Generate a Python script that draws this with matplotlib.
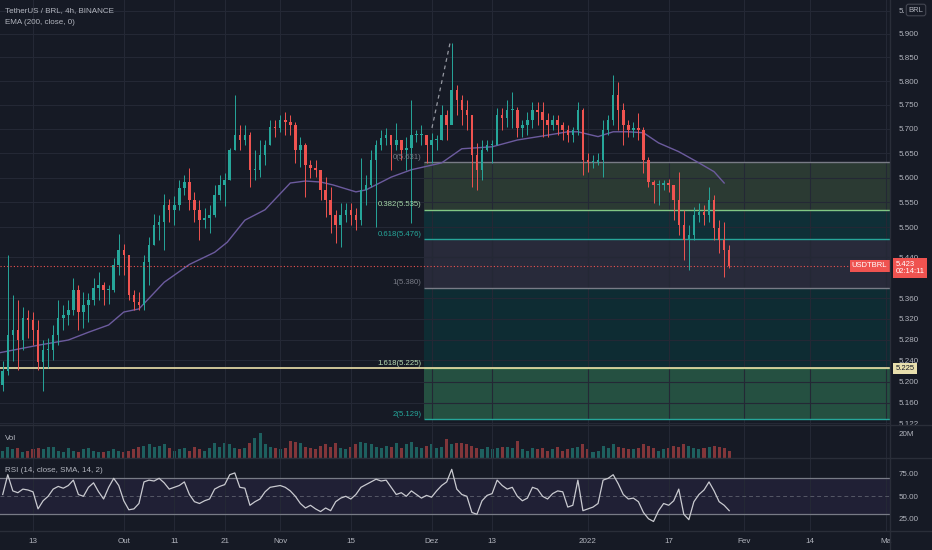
import numpy as np
import pandas as pd
import matplotlib
matplotlib.use('Agg')
import matplotlib.pyplot as plt
import matplotlib.dates as mdates
import matplotlib.transforms as mtransforms
from matplotlib.lines import Line2D
from matplotlib.ticker import FixedLocator, NullLocator

plt.rcParams['font.family'] = ['Liberation Sans', 'DejaVu Sans']

BG = '#161a25'
GRID = '#242835'
TXT = '#b2b5be'
UP = '#26a69a'
DOWN = '#ef5350'

# daily candles, 2021-09-07 .. 2022-01-28
start_day = '2021-09-07'
first_open = 5.194
high = [5.239, 5.445, 5.366, 5.356, 5.343, 5.337, 5.333,
        5.318, 5.279, 5.283, 5.308, 5.356, 5.347, 5.356,
        5.399, 5.386, 5.372, 5.370, 5.399, 5.411, 5.391,
        5.386, 5.439, 5.486, 5.467, 5.445, 5.376, 5.372,
        5.445, 5.480, 5.527, 5.525, 5.567, 5.557, 5.563,
        5.595, 5.606, 5.620, 5.571, 5.555, 5.539, 5.545,
        5.585, 5.606, 5.610, 5.661, 5.771, 5.708, 5.708,
        5.693, 5.657, 5.677, 5.677, 5.718, 5.718, 5.729,
        5.735, 5.729, 5.714, 5.683, 5.670, 5.636, 5.636,
        5.616, 5.602, 5.581, 5.535, 5.549, 5.549, 5.549,
        5.539, 5.640, 5.606, 5.657, 5.677, 5.698, 5.702,
        5.687, 5.712, 5.677, 5.683, 5.760, 5.698, 5.708,
        5.687, 5.691, 5.687, 5.750, 5.739, 5.881, 5.792,
        5.771, 5.760, 5.729, 5.671, 5.677, 5.677,
        5.677, 5.743, 5.743, 5.760, 5.777, 5.745, 5.718,
        5.735, 5.756, 5.756, 5.756, 5.733, 5.729, 5.729,
        5.714, 5.708, 5.704, 5.756, 5.743, 5.651, 5.646,
        5.651, 5.718, 5.729, 5.813, 5.798, 5.754, 5.718,
        5.714, 5.733, 5.704, 5.642, 5.595, 5.595, 5.595,
        5.597, 5.585, 5.612, 5.535, 5.504, 5.541, 5.549,
        5.545, 5.581, 5.565, 5.514, 5.510, 5.465]
low = [5.182, 5.213, 5.239, 5.222, 5.260, 5.283, 5.270,
       5.222, 5.182, 5.226, 5.241, 5.270, 5.298, 5.308,
       5.327, 5.298, 5.302, 5.314, 5.347, 5.356, 5.347,
       5.349, 5.372, 5.405, 5.405, 5.356, 5.337, 5.337,
       5.337, 5.386, 5.465, 5.474, 5.455, 5.510, 5.504,
       5.535, 5.565, 5.535, 5.510, 5.474, 5.498, 5.488,
       5.520, 5.555, 5.543, 5.595, 5.657, 5.657, 5.667,
       5.581, 5.595, 5.602, 5.626, 5.667, 5.683, 5.693,
       5.687, 5.687, 5.630, 5.622, 5.561, 5.599, 5.602,
       5.555, 5.520, 5.488, 5.469, 5.461, 5.510, 5.504,
       5.494, 5.505, 5.545, 5.581, 5.500, 5.657, 5.667,
       5.616, 5.657, 5.636, 5.616, 5.508, 5.673, 5.667,
       5.630, 5.630, 5.657, 5.677, 5.677, 5.718, 5.729,
       5.708, 5.698, 5.581, 5.575, 5.595, 5.655,
       5.630, 5.667, 5.698, 5.704, 5.702, 5.683, 5.683,
       5.687, 5.702, 5.708, 5.683, 5.683, 5.698, 5.687,
       5.677, 5.673, 5.673, 5.687, 5.606, 5.612, 5.620,
       5.626, 5.602, 5.687, 5.708, 5.698, 5.667, 5.683,
       5.683, 5.677, 5.610, 5.581, 5.549, 5.545, 5.575,
       5.571, 5.514, 5.484, 5.435, 5.415, 5.474, 5.510,
       5.504, 5.510, 5.474, 5.449, 5.401, 5.419]
close = [5.220, 5.289, 5.298, 5.279, 5.322, 5.318, 5.298,
         5.237, 5.260, 5.260, 5.289, 5.322, 5.327, 5.337,
         5.376, 5.333, 5.347, 5.356, 5.380, 5.386, 5.376,
         5.376, 5.425, 5.455, 5.445, 5.366, 5.353, 5.347,
         5.431, 5.465, 5.504, 5.510, 5.545, 5.535, 5.545,
         5.579, 5.591, 5.555, 5.535, 5.514, 5.518, 5.525,
         5.565, 5.585, 5.595, 5.657, 5.687, 5.677, 5.687,
         5.616, 5.616, 5.646, 5.667, 5.704, 5.702, 5.718,
         5.714, 5.708, 5.657, 5.667, 5.626, 5.620, 5.616,
         5.575, 5.555, 5.525, 5.504, 5.525, 5.535, 5.525,
         5.514, 5.575, 5.585, 5.636, 5.667, 5.681, 5.687,
         5.667, 5.677, 5.657, 5.661, 5.687, 5.687, 5.687,
         5.667, 5.677, 5.677, 5.729, 5.708, 5.781, 5.760,
         5.739, 5.729, 5.646, 5.616, 5.657, 5.667,
         5.667, 5.729, 5.722, 5.739, 5.739, 5.702, 5.708,
         5.718, 5.739, 5.735, 5.718, 5.708, 5.718, 5.708,
         5.698, 5.687, 5.698, 5.739, 5.636, 5.632, 5.632,
         5.636, 5.698, 5.718, 5.771, 5.739, 5.708, 5.698,
         5.702, 5.698, 5.636, 5.591, 5.585, 5.585, 5.589,
         5.585, 5.555, 5.504, 5.474, 5.484, 5.525, 5.531,
         5.525, 5.555, 5.498, 5.474, 5.455, 5.423]
volume = [6, 9, 7, 8, 5, 6, 7,
          8, 7, 9, 9, 6, 5, 8,
          6, 5, 7, 8, 6, 5, 5,
          6, 7, 6, 5, 6, 7, 9,
          10, 11, 9, 10, 11, 8, 6,
          7, 8, 6, 9, 7, 6, 8,
          12, 9, 12, 11, 8, 7, 8,
          12, 16, 20, 11, 9, 8, 7,
          8, 14, 13, 12, 9, 8, 7,
          10, 11, 9, 12, 8, 7, 9,
          11, 13, 12, 11, 9, 8, 10,
          9, 12, 8, 11, 13, 9, 8,
          10, 11, 8, 9, 15, 11, 12,
          12, 11, 10, 8, 7, 9,
          7, 8, 9, 9, 8, 14, 7,
          6, 8, 7, 8, 6, 7, 9,
          6, 7, 8, 9, 11, 7, 5,
          6, 10, 8, 11, 9, 8, 7,
          7, 8, 11, 10, 8, 6, 7,
          8, 10, 9, 11, 10, 8, 7,
          8, 9, 10, 9, 8, 6]
rsi = [52, 74, 56, 54, 58, 57, 55,
       36, 45, 50, 58, 61, 59, 62,
       68, 52, 50, 60, 65, 55, 47,
       60, 70, 62, 45, 35, 36, 42,
       66, 68, 67, 70, 65, 58, 60,
       62, 66, 52, 44, 42, 45, 47,
       58, 61, 63, 74, 76, 60, 59,
       40, 44, 47, 55, 60, 61, 62,
       60, 56, 50, 42, 37, 40, 36,
       33, 37, 34, 44, 48, 50, 47,
       52, 60, 63, 66, 69, 67, 68,
       60, 52, 54, 50, 56, 52, 48,
       51, 49, 56, 62, 66, 80, 58,
       52, 50, 32, 30, 45, 51,
       53, 68, 62, 58, 60, 50, 45,
       48, 60, 58, 50, 47, 53, 56,
       55, 38, 40, 68, 34, 36, 38,
       42, 68, 70, 74, 64, 52, 47,
       48, 44, 32, 25, 22, 34, 42,
       40, 45, 58, 30, 24, 44, 52,
       57, 66, 56, 44, 40, 34]

ema_dates = ['2021-09-06 00:00', '2021-09-14 00:00', '2021-09-20 00:00', '2021-09-24 00:00',
             '2021-09-28 00:00', '2021-10-01 00:00', '2021-10-04 00:00', '2021-10-09 00:00',
             '2021-10-14 00:00', '2021-10-19 00:00', '2021-10-21 12:00', '2021-10-25 00:00',
             '2021-10-29 00:00', '2021-11-03 00:00', '2021-11-06 00:00', '2021-11-09 00:00',
             '2021-11-11 12:00', '2021-11-16 00:00', '2021-11-18 00:00', '2021-11-23 00:00',
             '2021-11-27 00:00', '2021-12-03 00:00', '2021-12-07 00:00', '2021-12-13 00:00',
             '2021-12-18 00:00', '2021-12-24 00:00', '2021-12-28 00:00', '2021-12-30 00:00',
             '2022-01-03 00:00', '2022-01-06 00:00', '2022-01-09 00:00', '2022-01-12 00:00',
             '2022-01-15 00:00', '2022-01-19 00:00', '2022-01-23 00:00', '2022-01-26 00:00',
             '2022-01-28 00:00']
ema_values = [5.254, 5.269, 5.279, 5.294, 5.308,
              5.333, 5.339, 5.391, 5.426, 5.450,
              5.470, 5.514, 5.535, 5.589, 5.593,
              5.591, 5.585, 5.571, 5.575, 5.601,
              5.616, 5.630, 5.659, 5.663, 5.677,
              5.687, 5.694, 5.694, 5.684, 5.694,
              5.694, 5.692, 5.671, 5.653, 5.630,
              5.612, 5.589]

fib_start = '2021-11-29 12:00'
fib_ratios = ['0', '0.382', '0.618', '1', '1.618', '2']
fib_prices = [5.631, 5.535, 5.476, 5.380, 5.225, 5.129]
fib_line_colors = ['#787b86', '#81c784', '#26a69a', '#787b86', '#4caf50', '#26a69a']
fib_text_colors = ['#787b86', '#a5d6a7', '#26a69a', '#787b86', '#b9dcb3', '#26a69a']
fib_fill_colors = ['#2b3a33', '#0f2f37', '#282a3a', '#0e2c33', '#255041']
trend_dates = ['2021-12-01 02:00', '2021-12-04 16:00']
trend_prices = [5.702, 5.881]
support_price = 5.225
last_price = 5.423
countdown = '02:14:11'

price_ticks = [5.950, 5.900, 5.850, 5.800, 5.750, 5.700, 5.650, 5.600, 5.550,
               5.500, 5.440, 5.360, 5.320, 5.280, 5.240, 5.200, 5.160, 5.122]
price_tick_labels = ['5.', '5.900', '5.850', '5.800', '5.750', '5.700', '5.650',
                     '5.600', '5.550', '5.500', '5.440', '5.360', '5.320', '5.280',
                     '5.240', '5.200', '5.160', '5.122']
x_tick_dates = ['2021-09-13', '2021-10-01', '2021-10-11', '2021-10-21', '2021-11-01',
                '2021-11-15', '2021-12-01', '2021-12-13', '2022-01-01', '2022-01-17',
                '2022-02-01', '2022-02-14', '2022-03-01']
x_tick_labels = ['13', 'Out', '11', '21', 'Nov', '15', 'Dez', '13', '2022', '17',
                 'Fev', '14', 'Ma']


def to_num(strings):
    return mdates.date2num(pd.to_datetime(strings, format='mixed').to_pydatetime())


# derived arrays
close_a = np.array(close)
open_a = np.concatenate([[first_open], close_a[:-1]])
high_a = np.array(high)
low_a = np.array(low)
dates = pd.date_range(start_day, periods=len(close), freq='D')
xd = mdates.date2num(dates.to_pydatetime())
cols = np.where(close_a >= open_a, UP, DOWN)

ref_day = to_num(['2021-09-13'])[0]
x_left = ref_day - 6.54
x_right = ref_day + 169.87

W, H = 932.0, 550.0
fig = plt.figure(figsize=(9.32, 5.5), dpi=100, facecolor=BG)
ax = fig.add_axes([0, 1 - 425 / H, 890 / W, 425 / H])
axv = fig.add_axes([0, 1 - 458 / H, 890 / W, 33 / H], sharex=ax)
axr = fig.add_axes([0, 1 - 531 / H, 890 / W, 73 / H], sharex=ax)

xt = to_num(x_tick_dates)
for a in (ax, axv, axr):
    a.set_facecolor(BG)
    for s in a.spines.values():
        s.set_visible(False)
    a.set_axisbelow('line')
    a.xaxis.set_major_locator(FixedLocator(xt))
    a.grid(True, axis='x', color=GRID, lw=0.8)
    a.yaxis.tick_right()
    a.tick_params(axis='both', length=0, labelcolor=TXT, labelsize=5.8)
ax.tick_params(labelbottom=False)
axv.tick_params(labelbottom=False)
axr.set_xticks(xt)
axr.set_xticklabels(x_tick_labels)
axr.tick_params(axis='x', pad=5)
ax.set_xlim(x_left, x_right)

# ---- price pane
ax.set_yscale('log')
ax.set_ylim(5.1185, 5.9733)
ax.yaxis.set_major_locator(FixedLocator(price_ticks))
ax.yaxis.set_minor_locator(NullLocator())
ax.set_yticklabels(price_tick_labels)
ax.tick_params(axis='y', pad=6)
ax.grid(True, axis='y', color=GRID, lw=0.8)

fib_x0 = to_num([fib_start])[0]
for i in range(len(fib_fill_colors)):
    ax.fill_between([fib_x0, x_right], fib_prices[i], fib_prices[i + 1],
                    color=fib_fill_colors[i], lw=0, zorder=0.6)
ax.hlines(fib_prices, fib_x0, x_right, colors=fib_line_colors, lw=1, zorder=1.8)
for r, p, c in zip(fib_ratios, fib_prices, fib_text_colors):
    ax.text(fib_x0 - 0.5, p * 1.0006, f'{r}({p:.3f})', ha='right', va='bottom',
            color=c, fontsize=5.6, zorder=5)
ax.axhline(support_price, color='#ddd3a0', lw=1.3, zorder=2)
ax.plot(to_num(trend_dates), trend_prices, color='#9598a1', lw=0.9,
        ls=(0, (3, 3)), zorder=2.2)

ax.plot(to_num(ema_dates), ema_values, color='#6c5b9e', lw=1.0, zorder=2.5)

ax.vlines(xd, low_a, high_a, colors=cols, lw=0.7, zorder=3)
body = np.maximum(np.abs(close_a - open_a), 0.002)
ax.bar(xd, body, bottom=np.minimum(open_a, close_a), width=0.5, color=cols,
       lw=0, zorder=3.1)

ax.axhline(last_price, color=DOWN, lw=0.8, ls=(0, (1, 2)), zorder=4)

ytr = ax.get_yaxis_transform()
ax.text(0.997, last_price, 'USDTBRL', transform=ytr, ha='right', va='center',
        color='white', fontsize=5.5, zorder=6, clip_on=False,
        bbox=dict(boxstyle='square,pad=0.3', fc=DOWN, ec='none'))
lbl_tr = mtransforms.offset_copy(ytr, fig=fig, x=0, y=5, units='dots')
ax.text(1.006, last_price, f'{last_price:.3f}\n{countdown}', transform=lbl_tr,
        ha='left', va='top', color='white', fontsize=5.5, linespacing=1.1,
        zorder=6, clip_on=False,
        bbox=dict(boxstyle='square,pad=0.35', fc=DOWN, ec='none'))
ax.text(1.006, support_price, f'{support_price:.3f}', transform=ytr, ha='left',
        va='center', color='#131722', fontsize=5.5, zorder=6, clip_on=False,
        bbox=dict(boxstyle='square,pad=0.3', fc='#e8dfad', ec='none'))

# ---- volume pane
axv.bar(xd, volume, width=0.6, color=cols, alpha=0.5, lw=0)
axv.set_ylim(0, 26.4)
axv.set_yticks([20])
axv.set_yticklabels(['20M'])
axv.tick_params(axis='y', pad=6)

# ---- rsi pane
axr.axhspan(30, 70, color='#7e57c2', alpha=0.1, lw=0)
axr.axhline(70, color='#787b86', lw=0.9)
axr.axhline(30, color='#787b86', lw=0.9)
axr.axhline(50, color='#787b86', lw=0.7, alpha=0.6, ls=(0, (4, 3)))
axr.plot(xd, rsi, color='#c9cad0', lw=0.9)
axr.set_ylim(11.4, 92.6)
axr.set_yticks([75, 50, 25])
axr.set_yticklabels(['75.00', '50.00', '25.00'])
axr.tick_params(axis='y', pad=6)

# pane separators
for py in (425, 458, 531):
    fig.add_artist(Line2D([0, 1], [1 - py / H] * 2, transform=fig.transFigure,
                          color='#2a2e39', lw=1))
fig.add_artist(Line2D([890 / W] * 2, [0, 1], transform=fig.transFigure,
                      color='#2a2e39', lw=1))

# legends
fig.text(5 / W, 1 - 11 / H, 'TetherUS / BRL, 4h, BINANCE', color=TXT,
         fontsize=5.8, va='center')
fig.text(5 / W, 1 - 23 / H, 'EMA (200, close, 0)', color=TXT, fontsize=5.8,
         va='center')
fig.text(5 / W, 1 - 438 / H, 'Vol', color=TXT, fontsize=5.8, va='center')
fig.text(5 / W, 1 - 470 / H, 'RSI (14, close, SMA, 14, 2)', color=TXT,
         fontsize=5.8, va='center')
fig.text(916 / W, 1 - 10 / H, 'BRL', color=TXT, fontsize=5.5, ha='center',
         va='center', bbox=dict(boxstyle='round,pad=0.3', fc=BG, ec='#434651', lw=0.8))

fig.savefig('out.png', dpi=100, facecolor=BG)
